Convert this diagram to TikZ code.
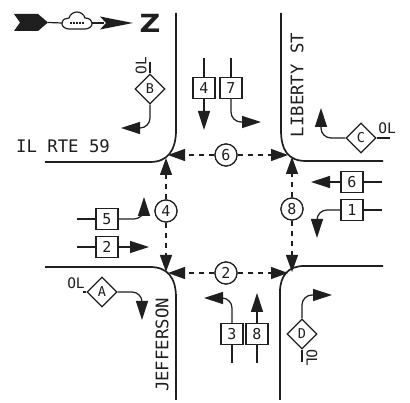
\documentclass[tikz,border=0pt]{standalone}
\usepackage{fontspec}
\setmainfont{DejaVu Sans Mono}
\newfontfamily\zfont{DejaVu Sans}
\usetikzlibrary{arrows.meta,shapes.geometric}
\definecolor{ink}{gray}{0.12}
\tikzset{
  x=1pt,y=-1pt,
  every node/.style={text=ink},
  road/.style={draw=ink,line width=1.7pt},
  conn/.style={draw=ink,line width=1.2pt,rounded corners=10pt,-{Triangle[length=19pt,width=12pt]}},
  plainline/.style={draw=ink,line width=1.2pt},
  dashconn/.style={draw=ink,line width=1.3pt,dash pattern=on 5pt off 5pt,-{Triangle[length=17pt,width=12pt]}},
  phase/.style={draw=ink,fill=white,line width=1.2pt,minimum width=22pt,minimum height=21pt,inner sep=0pt,font=\fontsize{15}{15}\selectfont},
  ph/.style={draw=ink,fill=white,circle,line width=1.2pt,minimum size=22pt,inner sep=0pt,font=\fontsize{15}{15}\selectfont},
  ovl/.style={draw=ink,fill=white,diamond,aspect=1,line width=1.2pt,minimum size=30pt,inner sep=0pt,font=\fontsize{13.5}{13.5}\selectfont},
  olabel/.style={font=\fontsize{14.5}{14.5}\selectfont,inner sep=0pt},
  street/.style={font=\fontsize{17.3}{17.3}\selectfont,inner sep=0pt},
}
\begin{document}
\begin{tikzpicture}
\useasboundingbox[fill=white] (0,0) rectangle (410,403);
% roads
\draw[road] (176,13) -- (176,130) .. controls (176,150) and (168,162) .. (150,162) -- (45,162);
\draw[road] (281,13) -- (281,130) .. controls (281,150) and (288,161) .. (306,161) -- (383,161);
\draw[road] (45,267) -- (150,267) .. controls (168,267) and (176,278) .. (176,298) -- (176,400);
\draw[road] (383,266) -- (304,266) .. controls (288,266) and (280,276) .. (280,292) -- (280,400);
% street names
\node[street] (rte) at (63,146) {IL RTE 59};
\node[street,rotate=90] (lib) at (297,85) {LIBERTY ST};
\node[street,rotate=90] (jef) at (162,345) {JEFFERSON};
% north arrow
\fill[ink] (14,14) -- (38,14) -- (48,22.5) -- (38,31) -- (14,31) -- (20,22.5) -- cycle;
\draw[plainline] (48,22.5) -- (62,23);
\draw[plainline,fill=white] (62,24) .. controls (62,19) and (66,18) .. (69,18)
  .. controls (70,14) and (74,12) .. (77,12) .. controls (80,12) and (84,14) .. (85,18)
  .. controls (89,18) and (92,20) .. (92,24) .. controls (92,27) and (88,29) .. (85,29)
  -- (69,29) .. controls (66,29) and (62,27) .. (62,24) -- cycle;
\draw[ink,line width=2pt,dash pattern=on 2pt off 1pt] (70,23.5) -- (85,23.5);
\draw[plainline] (92,23) -- (104,23);
\fill[ink] (100,16.5) -- (133,23) -- (100,29.5) -- (106,23) -- cycle;
\node[font=\zfont\bfseries\fontsize{25}{25}\selectfont,inner sep=0pt,xscale=1.15] (north) at (150,23.5) {Z};
% phase circles
\node[ph] (p6) at (226,155) {6};
\node[ph] (p2) at (226,273) {2};
\node[ph] (p4) at (166,211) {4};
\node[ph] (p8) at (292,209) {8};
\coordinate (d6l) at (168,155);
\coordinate (d6r) at (288,155);
\coordinate (d2l) at (168,273);
\coordinate (d2r) at (288,273);
\coordinate (d4t) at (166,158);
\coordinate (d4b) at (166,272);
\coordinate (d8t) at (292,157);
\coordinate (d8b) at (292,272);
\draw[dashconn] (p6) -- (d6l);
\draw[dashconn] (p6) -- (d6r);
\draw[dashconn] (p2) -- (d2l);
\draw[dashconn] (p2) -- (d2r);
\draw[dashconn] (p4) -- (d4t);
\draw[dashconn] (p4) -- (d4b);
\draw[dashconn] (p8) -- (d8t);
\draw[dashconn] (p8) -- (d8b);
\node[ph] at (p6) {6};
\node[ph] at (p2) {2};
\node[ph] at (p4) {4};
\node[ph] at (p8) {8};
% phase boxes
\node[phase] (b4) at (204,88) {4};
\node[phase] (b7) at (231,88) {7};
\node[phase] (b6) at (352,182) {6};
\node[phase] (b1) at (352,210) {1};
\node[phase] (b5) at (107,219) {5};
\node[phase] (b2) at (107,247) {2};
\node[phase] (b3) at (232,334) {3};
\node[phase] (b8) at (257,334) {8};
% free ends
\coordinate (s4) at (204,58);
\coordinate (s7) at (231,58);
\coordinate (s6) at (382,182);
\coordinate (s1) at (382,210);
\coordinate (s5) at (77,219);
\coordinate (s2) at (77,247);
\coordinate (s3) at (232,363);
\coordinate (s8) at (257,363);
\coordinate (t4) at (204,130);
\coordinate (t7) at (261,122);
\coordinate (t6) at (311,182);
\coordinate (t1) at (317,238);
\coordinate (t5) at (144,197);
\coordinate (t2) at (149,247);
\coordinate (t3) at (204,298);
\coordinate (t8) at (257,293);
\draw[plainline] (b4.north) -- (s4);
\draw[plainline] (b7.north) -- (s7);
\draw[plainline] (b6.east) -- (s6);
\draw[plainline] (b1.east) -- (s1);
\draw[plainline] (b5.west) -- (s5);
\draw[plainline] (b2.west) -- (s2);
\draw[plainline] (b3.south) -- (s3);
\draw[plainline] (b8.south) -- (s8);
\draw[conn] (b4.south) -- (t4);
\draw[conn] (b7.south) |- (t7);
\draw[conn] (b6.west) -- (t6);
\draw[conn] (b1.west) -| (t1);
\draw[conn] (b5.east) -| (t5);
\draw[conn] (b2.east) -- (t2);
\draw[conn] (b3.north) |- (t3);
\draw[conn] (b8.north) -- (t8);
% overlaps
\node[ovl] (A) at (102,292) {A};
\node[ovl] (B) at (150,89) {B};
\node[ovl] (C) at (361,138) {C};
\node[ovl] (D) at (302,334) {D};
\node[olabel] (olA) at (76,283) {OL};
\node[olabel,rotate=90] (olB) at (141,66) {OL};
\node[olabel] (olC) at (387,128) {OL};
\node[olabel,rotate=-90] (olD) at (312,358) {OL};
\coordinate (eA) at (83,292);
\coordinate (eB) at (150,62);
\coordinate (eC) at (390,138);
\coordinate (eD) at (302,362);
\coordinate (tA) at (142,320);
\coordinate (tB) at (121,128);
\coordinate (tC) at (321,108);
\coordinate (tD) at (332,295);
\draw[plainline] (A.west) -- (eA);
\draw[plainline] (B.north) -- (eB);
\draw[plainline] (C.east) -- (eC);
\draw[plainline] (D.south) -- (eD);
\draw[conn] (A.east) -| (tA);
\draw[conn] (B.south) |- (tB);
\draw[conn] (C.west) -| (tC);
\draw[conn] (D.north) |- (tD);
\end{tikzpicture}
\end{document}
